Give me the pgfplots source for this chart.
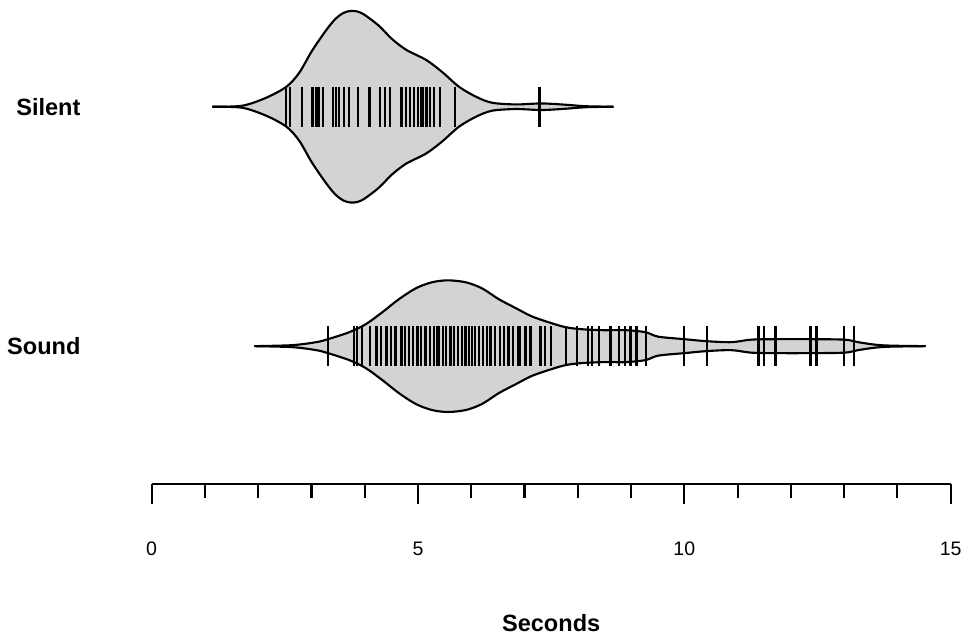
\documentclass[border=0pt]{standalone}
\usepackage{fontspec}
\setmainfont{Liberation Sans}
\usepackage{pgfplots}
\usepackage{pgfplotstable}
\usepgfplotslibrary{fillbetween}
\pgfplotsset{compat=1.18}
\definecolor{Bean}{HTML}{D3D3D3}

% bean outlines: x in seconds, h = half width (px-like units)
\pgfplotstableread{
x h
1.14 0
1.70 1
2.15 9
2.53 20
2.77 34
3.01 56
3.28 77
3.45 88
3.60 94
3.73 96
3.86 95.5
4.00 92
4.27 81
4.51 68
4.78 57
5.15 47
5.45 35
5.77 20
6.09 10
6.39 4
6.84 2.3
7.32 3.3
7.77 2
8.15 0.5
8.67 0
}\silentbean

\pgfplotstableread{
x h
1.93 0
2.64 1
3.09 4
3.31 7
3.71 14
4.02 22
4.33 34
4.64 47
4.96 58
5.26 64
5.56 66
5.90 64
6.20 58
6.52 47
6.84 38
7.13 30
7.45 24
7.77 19
8.07 17
8.48 16
8.90 16
9.27 14
9.51 9.5
10.00 7
10.41 5
10.88 4
11.25 6.5
11.70 7
12.38 7
13.01 6.5
13.26 4
13.58 1.5
13.88 0.5
14.53 0
}\soundbean

% observations: x = seconds, g = row of the bean
\pgfplotstableread{
x g
2.52 240
2.60 240
2.82 240
3.02 240
3.08 240
3.13 240
3.21 240
3.40 240
3.46 240
3.52 240
3.61 240
3.70 240
3.88 240
4.09 240
4.29 240
4.38 240
4.48 240
4.69 240
4.77 240
4.85 240
4.93 240
5.00 240
5.05 240
5.10 240
5.16 240
5.22 240
5.30 240
5.41 240
5.69 240
7.28 240
}\silentobs

\pgfplotstableread{
x g
3.31 0
3.80 0
3.86 0
3.95 0
4.10 0
4.22 0
4.30 0
4.41 0
4.49 0
4.58 0
4.69 0
4.75 0
4.83 0
4.91 0
4.99 0
5.05 0
5.14 0
5.22 0
5.30 0
5.35 0
5.39 0
5.47 0
5.53 0
5.61 0
5.67 0
5.75 0
5.82 0
5.89 0
5.96 0
6.01 0
6.07 0
6.14 0
6.22 0
6.30 0
6.36 0
6.45 0
6.54 0
6.61 0
6.70 0
6.78 0
6.88 0
6.92 0
7.02 0
7.11 0
7.30 0
7.39 0
7.49 0
7.78 0
7.99 0
8.19 0
8.27 0
8.40 0
8.60 0
8.62 0
8.78 0
8.89 0
8.99 0
9.10 0
9.28 0
10.00 0
10.42 0
11.39 0
11.49 0
11.71 0
12.37 0
12.48 0
13.00 0
13.18 0
}\soundobs

\begin{document}
\begin{tikzpicture}
\begin{axis}[
  name=ax,
  scale only axis,width=600.75pt,height=363.75pt,
  xmin=0,xmax=15,ymin=-138,ymax=347,
  clip=false,
  axis x line*=bottom,axis y line*=left,
  y axis line style={draw=none},
  x axis line style={line width=1.6pt,-},
  xtick={0,5,10,15},minor x tick num=4,
  tick align=outside,
  major tick length=15pt,minor tick length=10.5pt,
  xtick style={line width=1.6pt,black},
  ytick={0,240},yticklabels={Sound,Silent},
  ytick style={draw=none},
  /pgf/number format/assume math mode=true,
  xticklabel style={font=\fontsize{14.7}{17}\selectfont,yshift=-25pt},
  yticklabel style={font=\fontsize{17.7}{21}\selectfont\bfseries,xshift=-35pt},
  xlabel={Seconds},
  xlabel style={font=\fontsize{17.7}{21}\selectfont\bfseries,
    at={(axis description cs:0.5,0)},anchor=center,yshift=-105pt},
]
% Silent bean
\addplot[name path=su,draw=none,smooth] table[x=x,y expr=240+\thisrow{h}] {\silentbean};
\addplot[name path=sl,draw=none,smooth] table[x=x,y expr=240-\thisrow{h}] {\silentbean};
\addplot[Bean] fill between[of=su and sl];
\addplot[black,line width=1.6pt,smooth] table[x=x,y expr=240+\thisrow{h}] {\silentbean};
\addplot[black,line width=1.6pt,smooth] table[x=x,y expr=240-\thisrow{h}] {\silentbean};
% Sound bean
\addplot[name path=du,draw=none,smooth] table[x=x,y expr=\thisrow{h}] {\soundbean};
\addplot[name path=dl,draw=none,smooth] table[x=x,y expr=-\thisrow{h}] {\soundbean};
\addplot[Bean] fill between[of=du and dl];
\addplot[black,line width=1.6pt,smooth] table[x=x,y expr=\thisrow{h}] {\soundbean};
\addplot[black,line width=1.6pt,smooth] table[x=x,y expr=-\thisrow{h}] {\soundbean};
% observations
\addplot[only marks,mark=|,mark size=15pt,mark options={line width=1.7pt,black}]
  table[x=x,y=g] {\silentobs};
\addplot[only marks,mark=|,mark size=15pt,mark options={line width=1.7pt,black}]
  table[x=x,y=g] {\soundobs};
\end{axis}
\path ([shift={(-114pt,-111.75pt)}]ax.south west) rectangle ([shift={(9.75pt,0pt)}]ax.north east);
\end{tikzpicture}
\end{document}
